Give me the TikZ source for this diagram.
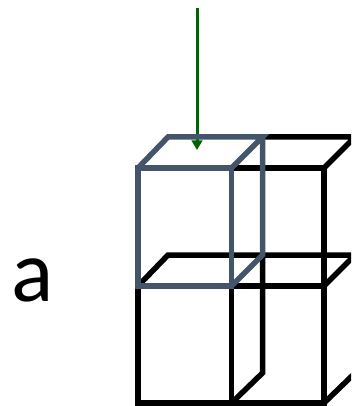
\documentclass[tikz,border=0pt]{standalone}
\usepackage{fontspec}
\setmainfont{Carlito}
\usetikzlibrary{positioning,arrows.meta}
\definecolor{cellblue}{HTML}{44546A}
\definecolor{beamgreen}{HTML}{006400}

\begin{document}
\begin{tikzpicture}[x=1pt, y=-1pt, cellblack/.style={draw=black, line width=5.5pt, line join=miter},
                    cellgray/.style={draw=cellblue, line width=5.5pt, line join=miter}]
\clip (0,0) rectangle (351,406);
\node[font=\fontsize{88}{88}\selectfont, inner sep=0pt, anchor=base] (label) at (32.5,301) {a};
\coordinate (beamstart) at (197,8);
\coordinate (beamend) at (197,150);
\draw[-{Triangle[length=9.5pt,width=10.5pt]}, line width=3pt, beamgreen] (beamstart) -- (beamend);
% black cells
\draw[cellblack] (138,286) rectangle (231.5,403);
\draw[cellblack] (231.5,168) rectangle (324,286);
\draw[cellblack] (231.5,286) rectangle (324,403);
\draw[cellblack] (262.5,137) -- (355,137) -- (324,168);
\draw[cellblack] (138,286) -- (168,255) -- (355,255) -- (324,286);
\draw[cellblack] (262.5,255) -- (262.5,373) -- (231.5,403);
\draw[cellblack] (324,403) -- (355,373);
% marked cell
\draw[cellgray] (138,168) rectangle (231.5,286);
\draw[cellgray] (138,168) -- (168,137) -- (262.5,137) -- (231.5,168);
\draw[cellgray] (262.5,137) -- (262.5,255) -- (231.5,286);
\end{tikzpicture}
\end{document}
